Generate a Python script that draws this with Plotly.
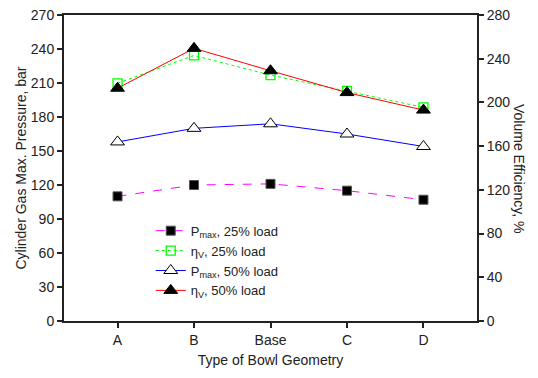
import plotly.graph_objects as go

categories = ["A", "B", "Base", "C", "D"]
pmax_25 = [110, 120, 121, 115, 107]
eta_25 = [217.5, 243, 225, 210.5, 195.5]
pmax_50 = [158, 170, 174, 165, 154]
eta_50 = [213, 249.5, 229, 209, 193]

left_ticks = [0, 30, 60, 90, 120, 150, 180, 210, 240, 270]
right_ticks = [0, 40, 80, 120, 160, 200, 240, 280]

FONT = "Liberation Sans, Arial, sans-serif"
x = list(range(len(categories)))

fig = go.Figure()
fig.add_trace(go.Scatter(
    x=x, y=pmax_25, name="P<sub>max</sub>, 25% load", mode="lines+markers",
    line=dict(color="#FF00FF", width=1, dash="dash"),
    marker=dict(symbol="square", size=9, color="black", line=dict(color="#555", width=1)),
))
fig.add_trace(go.Scatter(
    x=x, y=eta_25, name="η<sub>V</sub>, 25% load", mode="lines+markers", yaxis="y2",
    line=dict(color="#00FF00", width=1, dash="dot"),
    marker=dict(symbol="square-open", size=9, color="#00FF00", line=dict(width=1.3)),
))
fig.add_trace(go.Scatter(
    x=x, y=pmax_50, name="P<sub>max</sub>, 50% load", mode="lines+markers",
    line=dict(color="#0000FF", width=1),
    marker=dict(symbol="triangle-up", size=12, color="white", line=dict(color="black", width=1)),
))
fig.add_trace(go.Scatter(
    x=x, y=eta_50, name="η<sub>V</sub>, 50% load", mode="lines+markers", yaxis="y2",
    line=dict(color="#FF0000", width=1),
    marker=dict(symbol="triangle-up", size=12, color="black", line=dict(color="black", width=1)),
))

fig.update_layout(
    width=530, height=370,
    margin=dict(l=56, r=61, t=7, b=57, autoexpand=False),
    plot_bgcolor="white", paper_bgcolor="white",
    font=dict(family=FONT, size=14, color="#222"),
    showlegend=True,
    legend=dict(x=0.21, y=0.344, xanchor="left", yanchor="top",
                bgcolor="rgba(0,0,0,0)", font=dict(size=13, color="#222"),
                tracegroupgap=0, itemwidth=30),
    xaxis=dict(
        range=[-0.7, 4.7], tickmode="array", tickvals=x, ticktext=categories,
        showline=True, linecolor="#222", linewidth=2, mirror=True,
        ticks="outside", ticklen=5, tickcolor="#222", tickwidth=1.5,
        showgrid=False, zeroline=False, automargin=False, ticklabeloverflow="allow",
        title=dict(text="Type of Bowl Geometry", standoff=8, font=dict(size=14)),
    ),
    yaxis=dict(
        range=[0, 270], tickvals=left_ticks,
        showline=True, linecolor="#222", linewidth=2,
        ticks="outside", ticklen=5, tickcolor="#222", tickwidth=1.5,
        showgrid=False, zeroline=False, automargin=False, ticklabeloverflow="allow",
        title=dict(text="Cylinder Gas Max. Pressure, bar", standoff=1, font=dict(size=14)),
    ),
    yaxis2=dict(
        range=[0, 280], tickvals=right_ticks, overlaying="y", side="right",
        showline=True, linecolor="#222", linewidth=2,
        ticks="outside", ticklen=5, tickcolor="#222", tickwidth=1.5,
        showgrid=False, zeroline=False, automargin=False, ticklabeloverflow="allow",
    ),
    annotations=[dict(
        text="Volume Efficiency, %", textangle=90, xref="paper", yref="paper",
        x=1.0, xshift=52, y=0.5, showarrow=False, font=dict(size=14, color="#222"),
    )],
)

fig.write_html("out.html")
